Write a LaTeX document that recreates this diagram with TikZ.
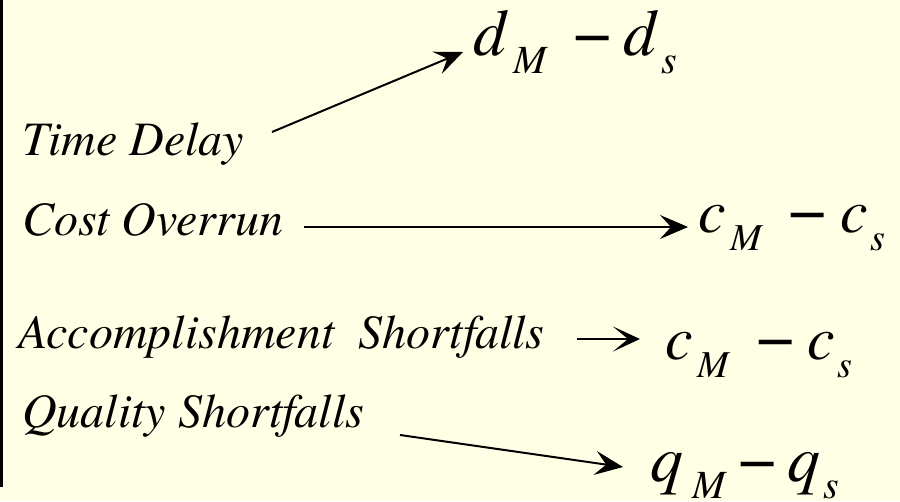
\documentclass[tikz,border=0pt]{standalone}
\usepackage{fontspec}
\setmainfont{TeX Gyre Termes}
\usetikzlibrary{arrows.meta}
\definecolor{bgyellow}{RGB}{255,255,229}
\newcommand\pc[3]{\rlap{\hspace*{#1pt}\raisebox{#2pt}{#3}}}
\newcommand\mainf{\fontsize{66}{66}\selectfont\itshape}
\newcommand\mainc{\fontsize{62}{62}\selectfont\itshape}
\newcommand\subf{\fontsize{40}{40}\selectfont\itshape}
\newcommand\subc{\fontsize{38}{38}\selectfont\itshape}
\newcommand\minf{\fontsize{68}{68}\selectfont\upshape}
\begin{document}
\begin{tikzpicture}[x=1pt,y=-1pt,
  lbl/.style={anchor=base west, inner sep=0pt, font=\fontsize{48}{50}\selectfont\itshape},
  expr/.style={anchor=base west, inner sep=0pt},
  conn/.style={line width=2pt, -{Stealth[length=28pt,width=24pt,inset=11pt]}},
  connglyph/.style={line width=2pt, -{Stealth[length=27pt,width=25pt,inset=15pt]}}]
\fill[bgyellow] (0,0) rectangle (900,501);
\useasboundingbox (0,0) rectangle (900,501);
\fill[black] (0,0) rectangle (3.3,487);
% labels
\node[lbl] (td) at (22,155) {Time Delay};
\node[lbl] (co) at (22,235) {Cost Overrun};
\node[lbl] (as) at (18,348) {Accomplishment\ \ Shortfalls};
\node[lbl] (qs) at (22,427) {Quality Shortfalls};
% expressions
\node[expr] (e1) at (473,55) {\pc{0}{0}{\mainf d}\pc{40}{-18}{\subf M}\pc{100}{0}{\minf −}\pc{150}{0}{\mainf d}\pc{188}{-18}{\subf s}};
\node[expr] (e2) at (698,232) {\pc{0}{0}{\mainc c}\pc{32}{-18}{\subc M}\pc{90}{0}{\minf −}\pc{142}{0}{\mainc c}\pc{172}{-18}{\subc s}};
\node[expr] (e3) at (665,359) {\pc{0}{0}{\mainc c}\pc{32}{-18}{\subc M}\pc{91}{0}{\minf −}\pc{142}{0}{\mainc c}\pc{172}{-18}{\subc s}};
\node[expr] (e4) at (650,481) {\pc{0}{0}{\mainf q}\pc{42}{-17}{\subf M}\pc{88}{0}{\minf −}\pc{137}{0}{\mainf q}\pc{173}{-17}{\subf s}};
% connector ends
\coordinate (a1s) at (272,132); \coordinate (a1e) at (463,52);
\coordinate (a2s) at (304,227); \coordinate (a2e) at (688,227);
\coordinate (a3s) at (577,339); \coordinate (a3e) at (640,339);
\coordinate (a4s) at (400,435); \coordinate (a4e) at (623,467);
\draw[conn] (a1s) -- (a1e);
\draw[conn] (a2s) -- (a2e);
\draw[connglyph] (a3s) -- (a3e);
\draw[conn] (a4s) -- (a4e);
\end{tikzpicture}
\end{document}
